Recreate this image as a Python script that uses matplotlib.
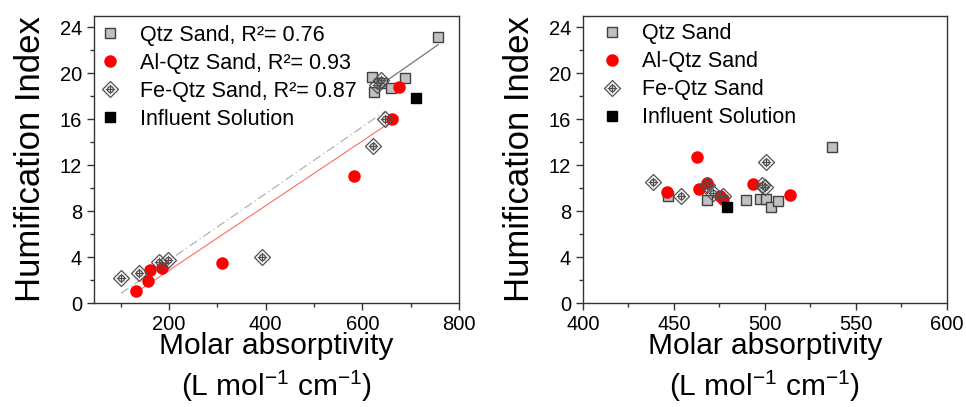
import numpy as np
import matplotlib
matplotlib.use('Agg')
from matplotlib import pyplot as plt
from matplotlib.path import Path
from matplotlib.ticker import MultipleLocator

plt.rcParams['font.family'] = ['Liberation Sans', 'DejaVu Sans']
plt.rcParams['mathtext.default'] = 'regular'

# left panel: all molar absorptivity values
qtz_x_l = [621, 624, 641, 659, 689, 757]
qtz_y_l = [19.7, 18.4, 19.2, 18.7, 19.6, 23.2]
al_x_l = [132, 157, 160, 186, 310, 583, 661, 675]
al_y_l = [1.04, 1.91, 2.87, 3.07, 3.5, 11.04, 16.06, 18.8]
fe_x_l = [101, 138, 179, 199, 393, 623, 647, 631, 638]
fe_y_l = [2.14, 2.64, 3.6, 3.74, 4.03, 13.7, 16.0, 19.0, 19.4]
inf_x_l = [711]
inf_y_l = [17.85]
r2_vals = ['0.76', '0.93', '0.87']

# right panel: zoom on the 400-600 range
qtz_x_r = [446.9, 468, 489.6, 497.3, 500.5, 503.3, 507, 536.6]
qtz_y_r = [9.34, 9.0, 8.95, 9.1, 9.1, 8.4, 8.85, 13.6]
al_x_r = [446.3, 462.8, 463.9, 468, 475.3, 477, 493.2, 513.7]
al_y_r = [9.63, 12.73, 9.95, 10.45, 9.3, 9.05, 10.36, 9.45]
fe_x_r = [438.6, 453.9, 468, 471.4, 477, 498.5, 500, 500.4]
fe_y_r = [10.5, 9.3, 10.3, 9.6, 9.3, 10.3, 10.1, 12.3]
inf_x_r = [479]
inf_y_r = [8.38]

# diamond with a crossed circle inside
diamond = Path([(0, 1), (1, 0), (0, -1), (-1, 0), (0, 1)],
               [Path.MOVETO, Path.LINETO, Path.LINETO, Path.LINETO, Path.CLOSEPOLY])
cross = Path([(0, 0.6), (0, -0.6), (-0.6, 0), (0.6, 0)],
             [Path.MOVETO, Path.LINETO, Path.MOVETO, Path.LINETO])
circ = Path.circle((0, 0), 0.38)
fe_marker = Path.make_compound_path(diamond, cross, circ)

edge = '#404040'


def draw(ax, qx, qy, ax_, ay, fx, fy, ix, iy, labels, fits, anchor):
    if fits:
        for xs, ys, c, ls, lw in [(qx, qy, '#777777', '-', 0.9),
                                  (fx, fy, '#aaaaaa', (0, (8, 3, 1, 3)), 0.8),
                                  (ax_, ay, '#ff6a6a', '-', 0.8)]:
            p = np.polyfit(xs, ys, 1)
            xx = np.array([min(xs), max(xs)])
            ax.plot(xx, np.polyval(p, xx), color=c, ls=ls, lw=lw, zorder=1)
    ax.plot(qx, qy, ls='none', marker='s', ms=7.5, mfc='#c0c0c0', mec=edge, mew=1.0,
            label=labels[0], zorder=3)
    ax.plot(ax_, ay, ls='none', marker='o', ms=9, mfc='#ff0000', mec='#ff0000', mew=0,
            label=labels[1], zorder=4)
    ax.plot(fx, fy, ls='none', marker=fe_marker, ms=11.5, mfc='none', mec='#505050', mew=0.9,
            label=labels[2], zorder=5)
    ax.plot(ix, iy, ls='none', marker='s', ms=7.5, mfc='#000000', mec='#000000',
            label=labels[3], zorder=6)

    ax.set_ylim(0, 25)
    ax.yaxis.set_major_locator(MultipleLocator(4))
    ax.yaxis.set_minor_locator(MultipleLocator(2))
    ax.tick_params(which='both', direction='out', top=False, right=False,
                   labelsize=14.5, color='#333333', width=1)
    ax.tick_params(which='major', length=5)
    ax.tick_params(which='minor', length=3)
    for s in ax.spines.values():
        s.set_color('#333333')
        s.set_linewidth(1)
    ax.set_ylabel('Humification Index', fontsize=25, labelpad=9)
    ax.set_xlabel('Molar absorptivity\n(L mol$^{-1}$ cm$^{-1}$)', fontsize=21.5,
                  linespacing=1.3, labelpad=-1)
    ax.legend(loc='upper left', bbox_to_anchor=anchor, frameon=False, fontsize=15.5,
              handlelength=1.0, handletextpad=0.9, labelspacing=0.33,
              borderaxespad=0, borderpad=0)


fig = plt.figure(figsize=(9.66, 4.07), dpi=100)
ax1 = fig.add_axes([0.0973, 0.2555, 0.3778, 0.7052])
ax2 = fig.add_axes([0.6035, 0.2555, 0.3768, 0.7052])

labels_l = ['Qtz Sand, R\u00b2= ' + r2_vals[0], 'Al-Qtz Sand, R\u00b2= ' + r2_vals[1],
            'Fe-Qtz Sand, R\u00b2= ' + r2_vals[2], 'Influent Solution']
labels_r = ['Qtz Sand', 'Al-Qtz Sand', 'Fe-Qtz Sand', 'Influent Solution']

draw(ax1, qtz_x_l, qtz_y_l, al_x_l, al_y_l, fe_x_l, fe_y_l, inf_x_l, inf_y_l, labels_l,
     True, (0.015, 0.97))
ax1.set_xlim(45, 800)
ax1.xaxis.set_major_locator(MultipleLocator(200))
ax1.xaxis.set_minor_locator(MultipleLocator(100))

draw(ax2, qtz_x_r, qtz_y_r, al_x_r, al_y_r, fe_x_r, fe_y_r, inf_x_r, inf_y_r, labels_r,
     False, (0.05, 0.975))
ax2.set_xlim(400, 600)
ax2.xaxis.set_major_locator(MultipleLocator(50))
ax2.xaxis.set_minor_locator(MultipleLocator(25))

fig.savefig('out.png', dpi=100)
